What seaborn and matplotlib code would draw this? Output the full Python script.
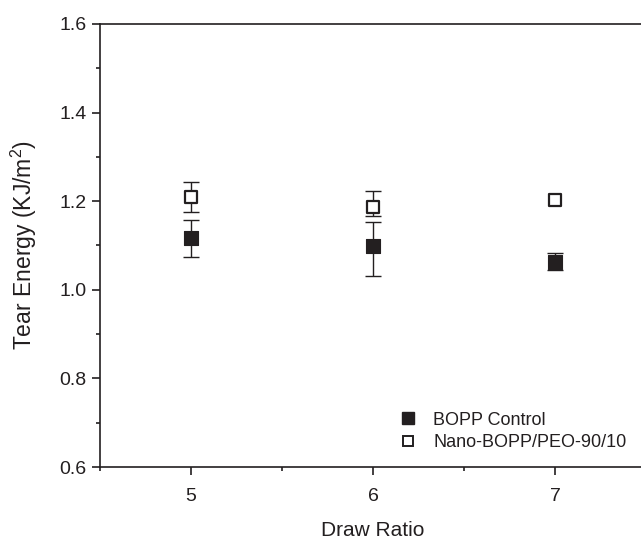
import matplotlib
matplotlib.use("Agg")
import matplotlib.pyplot as plt
import seaborn as sns
import pandas as pd
from matplotlib.lines import Line2D
from matplotlib.ticker import MultipleLocator, FormatStrFormatter

draw_ratio = [5, 6, 7]
control_vals = [1.116, 1.099, 1.062]
control_err_lo = [0.043, 0.068, 0.018]
control_err_hi = [0.041, 0.055, 0.021]
nano_vals = [1.210, 1.188, 1.203]
nano_err_lo = [0.035, 0.021, 0.0]
nano_err_hi = [0.034, 0.034, 0.0]
labels = ["BOPP Control", "Nano-BOPP/PEO-90/10"]

sns.set_style("ticks")
plt.rcParams['font.family'] = ['Liberation Sans', 'DejaVu Sans']
plt.rcParams['mathtext.fontset'] = 'custom'
plt.rcParams['mathtext.rm'] = 'Liberation Sans'

fig = plt.figure(figsize=(6.41, 5.46), dpi=100)
ax = fig.add_axes([100/641, 79/546, 546/641, 443/546])

df = pd.DataFrame({
    "x": draw_ratio * 2,
    "y": control_vals + nano_vals,
    "series": [labels[0]] * 3 + [labels[1]] * 3,
})

ax.errorbar(draw_ratio[:2], control_vals[:2] if False else control_vals[:2],
            yerr=[control_err_lo[:2], control_err_hi[:2]],
            fmt='none', ecolor='#231f20', elinewidth=1.0, capsize=5.5, capthick=1.0, zorder=2)
ax.errorbar(draw_ratio[2:], control_vals[2:], yerr=[control_err_lo[2:], control_err_hi[2:]],
            fmt='none', ecolor='#231f20', elinewidth=1.0, capsize=5.5, capthick=1.0, zorder=2)
ax.errorbar(draw_ratio[:2], nano_vals[:2], yerr=[nano_err_lo[:2], nano_err_hi[:2]],
            fmt='none', ecolor='#231f20', elinewidth=1.0, capsize=5.5, capthick=1.0, zorder=2)

sns.scatterplot(data=df[df.series == labels[0]], x="x", y="y", marker='s', s=95,
                color='#231f20', edgecolor='#231f20', linewidth=0.8, ax=ax, zorder=3, legend=False)
sns.scatterplot(data=df[df.series == labels[1]], x="x", y="y", marker='s', s=75,
                facecolor='white', edgecolor='#231f20', linewidth=1.6, ax=ax, zorder=3, legend=False)

ax.set_xlim(4.5, 7.5)
ax.set_ylim(0.6, 1.6)
ax.xaxis.set_major_locator(MultipleLocator(1))
ax.xaxis.set_minor_locator(MultipleLocator(0.5))
ax.yaxis.set_major_locator(MultipleLocator(0.2))
ax.yaxis.set_minor_locator(MultipleLocator(0.1))
ax.yaxis.set_major_formatter(FormatStrFormatter('%.1f'))

for s in ['left', 'bottom', 'top']:
    ax.spines[s].set_visible(True)
    ax.spines[s].set_linewidth(1.2)
    ax.spines[s].set_color('#231f20')
ax.spines['right'].set_visible(False)

ax.tick_params(axis='both', which='major', direction='out', length=6, width=1.2,
               labelsize=14, colors='#231f20', labelcolor='#231f20', pad=3.5)
ax.tick_params(axis='x', which='major', pad=9)
ax.tick_params(axis='both', which='minor', direction='out', length=3.2, width=1.2, colors='#231f20')
ax.tick_params(axis='x', top=False, which='both')

ax.set_xlabel("Draw Ratio", fontsize=15, color='#231f20', labelpad=12)
ax.set_ylabel("Tear Energy (KJ/m$^2$)", fontsize=16.5, color='#231f20', labelpad=15)

handles = [
    Line2D([], [], marker='s', linestyle='none', markersize=8.5, markerfacecolor='#231f20',
           markeredgecolor='#231f20', label=labels[0]),
    Line2D([], [], marker='s', linestyle='none', markersize=7.5, markerfacecolor='white',
           markeredgecolor='#231f20', markeredgewidth=1.4, label=labels[1]),
]
leg = ax.legend(handles=handles, loc='lower left', bbox_to_anchor=(299/546, 0.036),
                frameon=False, fontsize=13, handletextpad=0.89, labelspacing=0.3,
                borderaxespad=0, borderpad=0, handlelength=1.0)
for t in leg.get_texts():
    t.set_color('#231f20')

fig.savefig("out.png", dpi=100)
